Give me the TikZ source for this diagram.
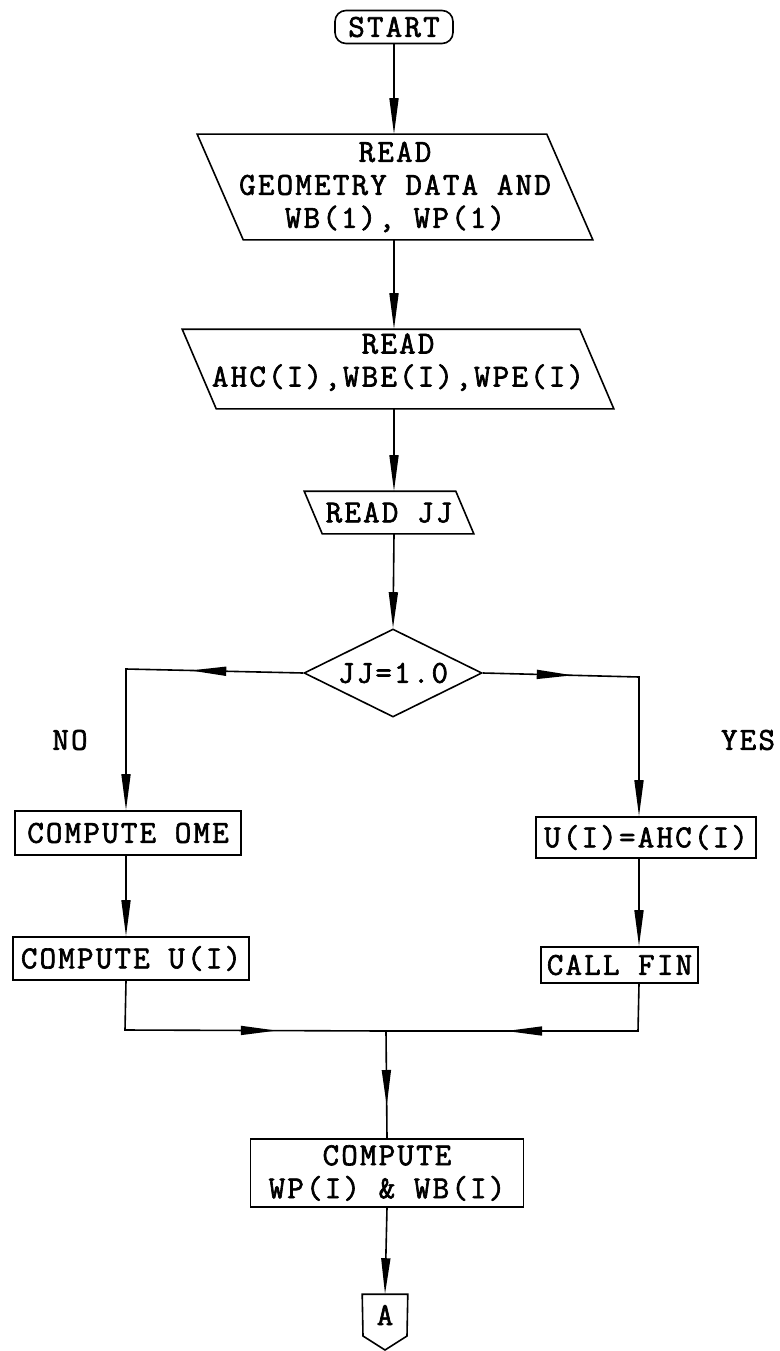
\documentclass[tikz,border=0pt]{standalone}
\usepackage{fontspec}
\newfontfamily\tw{Latin Modern Mono}[FakeBold=2, LetterSpace=7]
\usetikzlibrary{shapes.geometric,arrows.meta,decorations.markings,calc}
\begin{document}
\begin{tikzpicture}[x=1pt,y=-1pt,line width=1.6pt,
  tip/.tip={Triangle[length=36pt,width=9pt]},
  every node/.style={font=\tw\fontsize{32}{33}\selectfont, inner sep=0pt},
  plain/.style={rectangle, align=center},
  box/.style={draw, rectangle, align=center},
  arr/.style={-{tip}},
  midarrow/.style={postaction={decorate}, decoration={markings, mark=at position #1 with {\arrow{tip}}}}
]
\useasboundingbox (0,0) rectangle (779,1351);

% nodes
\node[draw, rounded corners=11pt, minimum width=118pt, minimum height=33pt] (start) at (394,27) {START};
\node[plain, minimum width=348pt, minimum height=104pt] (p1) at (395,187) {READ\\GEOMETRY DATA AND\\WB(1), WP(1)};
\node[plain, minimum width=396pt, minimum height=78pt, text depth=18pt] (p2) at (398,369) {READ\\AHC(I),WBE(I),WPE(I)};
\node[plain, minimum width=150pt, minimum height=41pt] (jj) at (389,512.5) {READ JJ};
\node[draw, diamond, aspect=2, minimum width=178pt, minimum height=88pt] (dia) at (393,673) {JJ=1.0};
\node[box, minimum width=226pt, minimum height=44pt] (ome) at (128,833) {COMPUTE OME};
\node[box, minimum width=236pt, minimum height=43pt] (ui) at (131,958.5) {COMPUTE U(I)};
\node[box, minimum width=220pt, minimum height=41pt] (ahc) at (646,837.5) {U(I)=AHC(I)};
\node[box, minimum width=157pt, minimum height=36pt] (fin) at (619.5,965) {CALL FIN};
\node[box, minimum width=273pt, minimum height=68pt] (comp) at (387,1173) {COMPUTE\\WP(I) \& WB(I)};
\node[plain, minimum width=44pt, minimum height=40pt] (con) at (385,1315) {A};
\node[plain] (no) at (70,740) {NO};
\node[plain] (yes) at (748,740) {YES};

% parallelogram outlines
\draw ($(p1.north west)+(-23,0)$) -- ($(p1.north east)+(-23,0)$) -- ($(p1.south east)+(23,0)$) -- ($(p1.south west)+(23,0)$) -- cycle;
\draw ($(p2.north west)+(-17,0)$) -- ($(p2.north east)+(-17,0)$) -- ($(p2.south east)+(17,0)$) -- ($(p2.south west)+(17,0)$) -- cycle;
\draw ($(jj.north west)+(-9,0)$) -- ($(jj.north east)+(-9,0)$) -- ($(jj.south east)+(9,0)$) -- ($(jj.south west)+(9,0)$) -- cycle;
% off-page connector
\draw (con.north west) -- (con.north east) -- (407,1336) -- (385,1350) -- (363,1336) -- cycle;

% bends
\coordinate (lb) at (126,669);
\coordinate (rb) at (639,677);
\coordinate (lb2) at (125,1030);
\coordinate (rb2) at (638,1031);
\coordinate (j) at (386,1031);

% connectors
\draw[arr] (start.south) -- (start.south |- p1.north);
\draw[arr] (start.south |- p1.south) -- (start.south |- p2.north);
\draw[arr] (start.south |- p2.south) -- (start.south |- jj.north);
\draw[arr] (start.south |- jj.south) -- (dia.north);
\draw[arr, midarrow=113pt] (dia.west) -- (lb) -- (ome.north -| lb);
\draw[arr, midarrow=90pt] (dia.east) -- (rb) -- (ahc.north -| rb);
\draw[arr] (ome.south -| lb) -- (ui.north -| lb);
\draw[arr] (ahc.south -| rb) -- (fin.north -| rb);
\draw[midarrow=201pt] (ui.south -| lb) -- (lb2) -- (j);
\draw[midarrow=179pt] (fin.south -| rb) -- (rb2) -- (j);
\draw[midarrow=75pt] (j) -- (comp.north);
\draw[arr] (comp.south) -- (con.north);
\end{tikzpicture}
\end{document}
